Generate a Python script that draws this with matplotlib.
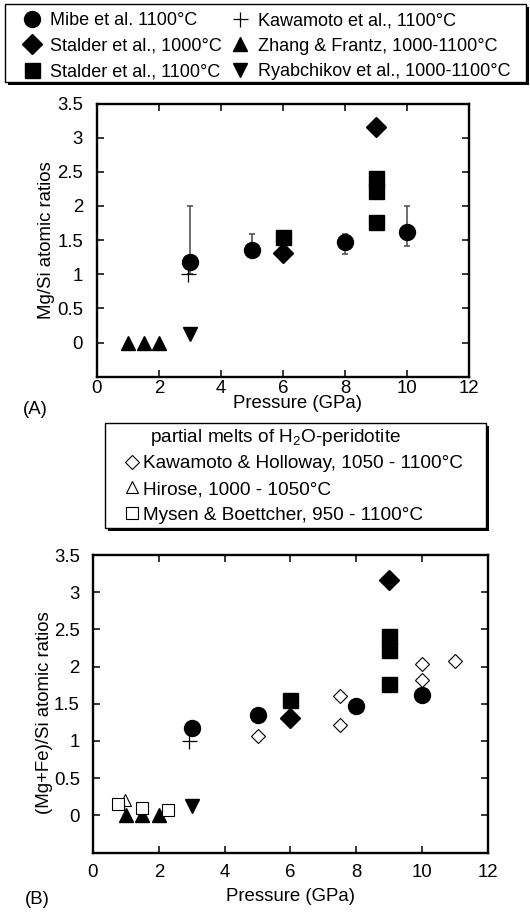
import matplotlib
matplotlib.use('Agg')
import matplotlib.pyplot as plt
from matplotlib.patches import Rectangle
from matplotlib.ticker import FuncFormatter

plt.rcParams['font.family'] = ['Liberation Sans', 'DejaVu Sans']
plt.rcParams['mathtext.fontset'] = 'custom'
plt.rcParams['mathtext.rm'] = 'Liberation Sans'
plt.rcParams['mathtext.it'] = 'Liberation Sans:italic'
plt.rcParams['mathtext.bf'] = 'Liberation Sans:bold'
FS = 13.4
plt.rcParams['font.size'] = FS

W, H = 530, 914

# --- data: Mg/Si of fluids / melts vs pressure (GPa) ---
mibe_p = [3, 5, 8, 10]
mibe_r = [1.18, 1.35, 1.47, 1.62]
mibe_lo = [1.0, 1.25, 1.30, 1.42]
mibe_hi = [2.0, 1.59, 1.59, 2.0]
kawamoto_p = [2.92]
kawamoto_r = [1.0]
stalder1000_p = [6, 9]
stalder1000_r = [1.31, 3.16]
stalder1100_p = [6, 9, 9, 9]
stalder1100_r = [1.55, 2.41, 2.22, 1.77]
zhang_p = [1, 1.5, 2]
zhang_r = [0, 0, 0]
ryab_p = [3]
ryab_r = [0.12]

# panel B extra: partial melts of H2O-peridotite, (Mg+Fe)/Si
kh_p = [5, 7.5, 7.5, 10, 10, 11]
kh_r = [1.07, 1.60, 1.22, 2.03, 1.82, 2.08]
hirose_p = [0.98]
hirose_r = [0.21]
mysen_p = [0.77, 1.5, 2.28]
mysen_r = [0.15, 0.10, 0.07]

x_ticks = [0, 2, 4, 6, 8, 10, 12]
y_ticks = [0, 0.5, 1, 1.5, 2, 2.5, 3, 3.5]

fig = plt.figure(figsize=(W / 100, H / 100), dpi=100)


def px_axes(x0, y0, x1, y1):
    return fig.add_axes([x0 / W, 1 - y1 / H, (x1 - x0) / W, (y1 - y0) / H])


def framed_box(x0, y0, x1, y1, off=3):
    sh = Rectangle(((x0 + off) / W, 1 - (y1 + off) / H), (x1 - x0) / W, (y1 - y0) / H,
                   transform=fig.transFigure, facecolor='k', lw=0, zorder=1)
    box = Rectangle((x0 / W, 1 - y1 / H), (x1 - x0) / W, (y1 - y0) / H,
                    transform=fig.transFigure, facecolor='white', edgecolor='k', lw=1.0, zorder=2)
    fig.patches.extend([sh, box])


def style(ax, pad_y, pad_x):
    ax.set_xlim(0, 12)
    ax.set_ylim(-0.5, 3.5)
    ax.set_xticks(x_ticks)
    ax.set_yticks(y_ticks)
    ax.yaxis.set_major_formatter(FuncFormatter(lambda v, _: f'{v:g}'))
    ax.tick_params(direction='in', top=True, right=True, length=5, width=1.1, labelsize=FS)
    ax.tick_params(axis='y', pad=pad_y)
    ax.tick_params(axis='x', pad=pad_x)
    for s in ax.spines.values():
        s.set_linewidth(1.7)


def draw_common(ax):
    ax.plot(mibe_p, mibe_r, 'o', color='k', ms=11.5, zorder=4, label='Mibe et al. 1100°C')
    ax.plot(stalder1000_p, stalder1000_r, 'D', color='k', ms=10, zorder=4, label='Stalder et al., 1000°C')
    ax.plot(stalder1100_p, stalder1100_r, 's', color='k', ms=10.8, zorder=4, label='Stalder et al., 1100°C')
    ax.plot(kawamoto_p, kawamoto_r, '+', color='k', ms=10.8, mew=0.9, zorder=3, label='Kawamoto et al., 1100°C')
    ax.plot(zhang_p, zhang_r, '^', color='k', ms=10.5, zorder=4, label='Zhang & Frantz, 1000-1100°C')
    ax.plot(ryab_p, ryab_r, 'v', color='k', ms=10.5, zorder=4, label='Ryabchikov et al., 1000-1100°C')


# ---------- panel A ----------
ax_a = px_axes(97, 103.5, 469, 376.8)
err_lo = [r - lo for r, lo in zip(mibe_r, mibe_lo)]
err_hi = [hi - r for r, hi in zip(mibe_r, mibe_hi)]
ax_a.errorbar(mibe_p, mibe_r, yerr=[err_lo, err_hi], fmt='none', ecolor='#555555',
              elinewidth=1.2, capsize=2.5, capthick=1.2, zorder=2)
draw_common(ax_a)
style(ax_a, 10, 2.0)
ax_a.set_xlabel('Pressure (GPa)')
ax_a.xaxis.set_label_coords(0.54, -0.068)
ax_a.set_ylabel('Mg/Si atomic ratios')
ax_a.yaxis.set_label_coords(-0.113, 0.5)
fig.text(23 / W, 1 - 410 / H, '(A)', va='center', ha='left')

framed_box(5, 4, 526, 82)
h, l = ax_a.get_legend_handles_labels()
fig.legend(h, l, loc='upper left', bbox_to_anchor=(23 / W, 1 - 12 / H),
           bbox_transform=fig.transFigure, ncol=2, frameon=False, borderpad=0,
           borderaxespad=0, handlelength=1.0, handletextpad=0.5, columnspacing=0.5,
           labelspacing=0.48, fontsize=13)

# ---------- panel B ----------
ax_b = px_axes(93, 555, 488, 852.5)
draw_common(ax_b)
ax_b.plot(kh_p, kh_r, 'D', mfc='white', mec='k', mew=0.8, ms=7.6, zorder=5,
          label='Kawamoto & Holloway, 1050 - 1100°C')
ax_b.plot(hirose_p, hirose_r, '^', mfc='white', mec='k', mew=0.8, ms=8.8, zorder=5,
          label='Hirose, 1000 - 1050°C')
ax_b.plot(mysen_p, mysen_r, 's', mfc='white', mec='k', mew=0.8, ms=8.6, zorder=5,
          label='Mysen & Boettcher, 950 - 1100°C')
style(ax_b, 9.5, 8.3)
ax_b.set_xlabel('Pressure (GPa)')
ax_b.xaxis.set_label_coords(0.5, -0.119)
ax_b.set_ylabel('(Mg+Fe)/Si atomic ratios')
ax_b.yaxis.set_label_coords(-0.101, 0.469)
fig.text(25 / W, 1 - 900 / H, '(B)', va='center', ha='left')

framed_box(105, 423, 486, 528)
fig.text(150 / W, 1 - 437 / H, 'partial melts of H$_2$O-peridotite', va='center', ha='left',
         fontsize=13.7, zorder=6)
hb, lb = ax_b.get_legend_handles_labels()
fig.legend(hb[-3:], lb[-3:], loc='upper left', bbox_to_anchor=(124.6 / W, 1 - 455 / H),
           bbox_transform=fig.transFigure, frameon=False, borderpad=0, borderaxespad=0,
           handlelength=0.78, handletextpad=0.19, labelspacing=0.44, fontsize=13.7)

fig.savefig('out.png', dpi=100)
